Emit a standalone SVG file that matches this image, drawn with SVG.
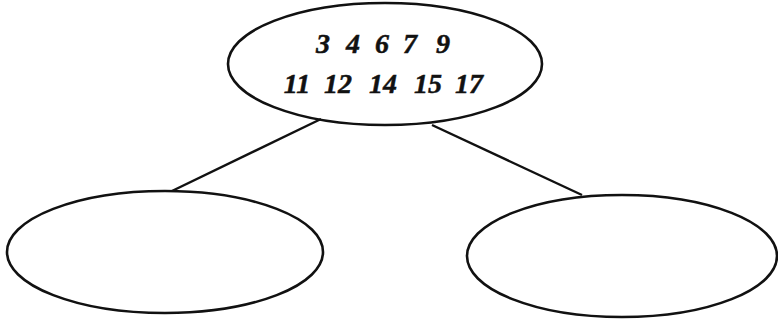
<svg xmlns="http://www.w3.org/2000/svg" width="778" height="325" viewBox="0 0 778 325">
<style>
.node{fill:none;stroke:#111;stroke-width:2.6}
.edge{stroke:#111;stroke-width:2.4;fill:none}
.num{font-family:"Liberation Serif","DejaVu Serif",serif;font-weight:bold;font-style:italic;font-size:28px;fill:#111;stroke:#111;stroke-width:0.5;text-anchor:middle}
</style>
<rect width="778" height="325" fill="#fff"/>
<g id="connectors">
<line class="edge" x1="321" y1="119" x2="172" y2="191"/>
<line class="edge" x1="432" y1="125" x2="582" y2="195"/>
</g>
<g id="root">
<ellipse class="node" cx="385" cy="64" rx="157" ry="61"/>
<text class="num" y="53"><tspan x="323">3</tspan><tspan x="353">4</tspan><tspan x="382">6</tspan><tspan x="410">7</tspan><tspan x="443">9</tspan></text>
<text class="num" y="93"><tspan x="297">11</tspan><tspan x="338">12</tspan><tspan x="383">14</tspan><tspan x="428">15</tspan><tspan x="469">17</tspan></text>
</g>
<g id="left">
<ellipse class="node" cx="165" cy="252" rx="158" ry="61"/>
</g>
<g id="right">
<ellipse class="node" cx="622" cy="256" rx="155" ry="61"/>
</g>
</svg>
